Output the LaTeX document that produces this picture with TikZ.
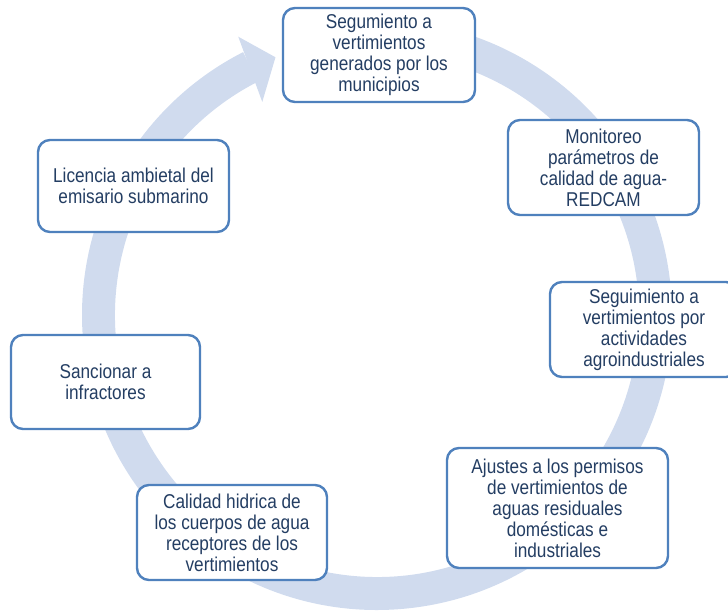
\documentclass[tikz,border=0pt]{standalone}
\usepackage{fontspec}
\usepackage{tikz}
\newfontfamily\boxfont[FakeStretch=0.86]{Liberation Sans}
\definecolor{ringblue}{RGB}{208,219,238}
\definecolor{lineblue}{RGB}{79,129,189}
\definecolor{textblue}{RGB}{36,62,99}

\begin{document}
\begin{tikzpicture}[x=1pt, y=1pt,
node_style/.style={rectangle, rounded corners=12pt, draw=lineblue, line width=2.4pt, fill=white,
  text=textblue, align=center, font=\boxfont\fontsize{20}{21}\selectfont, inner sep=2pt},
ring_style/.style={fill=ringblue, draw=none}]
\clip (0,0) rectangle (728,612);

% circular arrow behind the boxes
\coordinate (o) at (377,297);
\fill[ring_style] ([shift={(95:295)}]o) arc[start angle=95, end angle=-243, radius=295]
  -- ([shift={(117:262)}]o) arc[start angle=117, end angle=455, radius=262] -- cycle;
\fill[ring_style] ([shift={(116.5:311)}]o) -- ([shift={(111.5:277)}]o)
  -- ([shift={(118.3:242)}]o) -- cycle;

\node[node_style, minimum width=192pt, minimum height=94pt] (munic) at (379,557)
  {Segumiento a\\vertimientos\\generados por los\\municipios};
\node[node_style, minimum width=191pt, minimum height=95pt] (redcam) at (603.5,444.5)
  {Monitoreo\\parámetros de\\calidad de agua-\\REDCAM};
\node[node_style, minimum width=188pt, minimum height=95pt] (agro) at (644,282.5)
  {Seguimiento a\\vertimientos por\\actividades\\agroindustriales};
\node[node_style, minimum width=221pt, minimum height=120pt] (permisos) at (557.5,104)
  {Ajustes a los permisos\\de vertimientos de\\aguas residuales\\domésticas e\\industriales};
\node[node_style, minimum width=190pt, minimum height=95pt] (calidad) at (232,79.5)
  {Calidad hidrica de\\los cuerpos de agua\\receptores de los\\vertimientos};
\node[node_style, minimum width=189pt, minimum height=94pt] (sancion) at (105.5,230)
  {Sancionar a\\infractores};
\node[node_style, minimum width=191pt, minimum height=92pt] (licencia) at (133.5,426)
  {Licencia ambietal del\\emisario submarino};

\end{tikzpicture}
\end{document}
